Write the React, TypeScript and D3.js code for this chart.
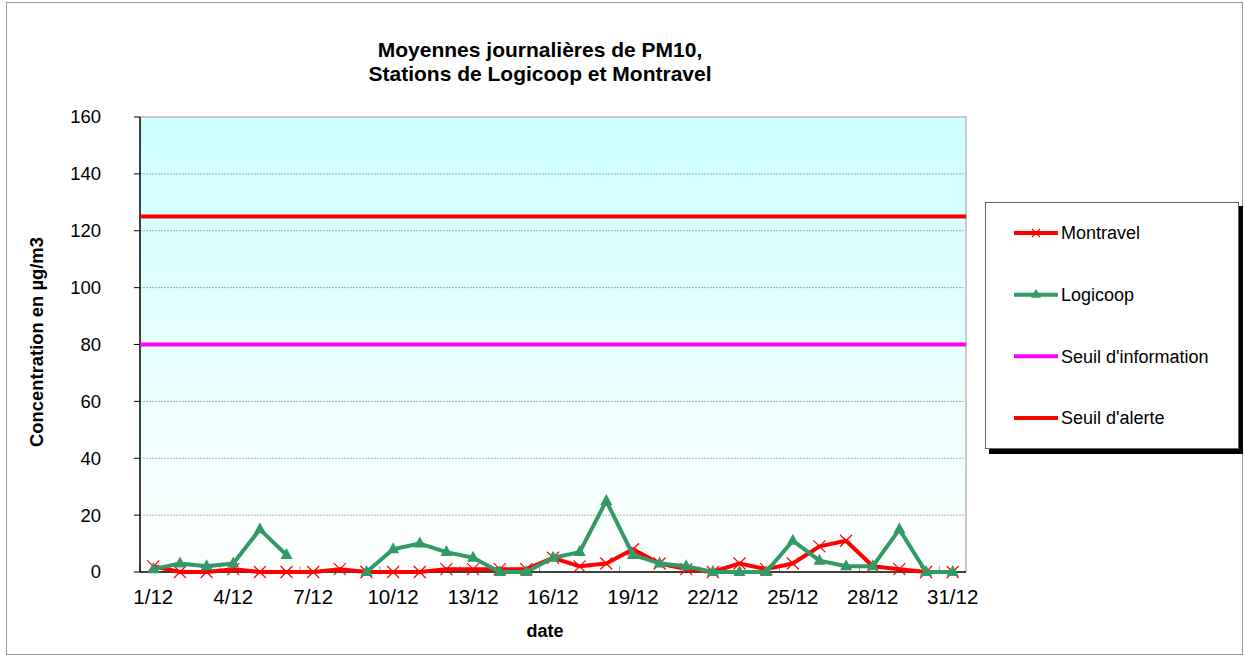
import React, { useEffect, useRef } from 'react';
import * as d3 from 'd3';

const days = d3.range(1, 32).map(d => `${d}/12`);
const montravel: (number | null)[] = [2, 0, 0, 1, 0, 0, 0, 1, 0, 0, 0, 1, 1, 1, 1, 5, 2, 3, 8, 3, 1, 0, 3, 1, 3, 9, 11, 2, 1, 0, 0];
const logicoop: (number | null)[] = [1, 3, 2, 3, 15, 6, null, null, 0, 8, 10, 7, 5, 0, 0, 5, 7, 25, 6, 3, 2, 0, 0, 0, 11, 4, 2, 2, 15, 0, 0];
const seuilInformation = 80;
const seuilAlerte = 125;
const yTicks = [0, 20, 40, 60, 80, 100, 120, 140, 160];
const legendItems = ['Montravel', 'Logicoop', "Seuil d'information", "Seuil d'alerte"];

const W = 1245;
const H = 657;
const FONT = 'Liberation Sans, Arial, sans-serif';

const App = () => {
  const svgRef = useRef<SVGSVGElement>(null);

  useEffect(() => {
    const svg = d3.select(svgRef.current);
    svg.selectAll('*').remove();

    const left = 140, right = 966, top = 117, bottom = 572;

    // dégradé du fond
    const defs = svg.append('defs');
    const grad = defs.append('linearGradient').attr('id', 'bg').attr('x1', 0).attr('y1', 0).attr('x2', 0).attr('y2', 1);
    grad.append('stop').attr('offset', '0%').attr('stop-color', '#CCFFFF');
    grad.append('stop').attr('offset', '100%').attr('stop-color', '#FFFFFF');

    svg.append('rect').attr('x', 0).attr('y', 0).attr('width', W).attr('height', H).attr('fill', '#fff');
    svg.append('rect').attr('x', 6.5).attr('y', 2.5).attr('width', 1236).attr('height', 652)
      .attr('fill', 'none').attr('stroke', '#999').attr('stroke-width', 1);

    const x = d3.scaleBand().domain(days).range([left, right]).padding(0);
    const y = d3.scaleLinear().domain([0, 160]).range([bottom, top]);
    const cx = (d: string) => (x(d) as number) + x.bandwidth() / 2;

    svg.append('rect').attr('x', left).attr('y', top).attr('width', right - left).attr('height', bottom - top)
      .attr('fill', 'url(#bg)');

    // grille
    svg.append('g').selectAll('line').data(yTicks.filter(t => t > 0 && t < 160)).enter().append('line')
      .attr('x1', left).attr('x2', right).attr('y1', d => y(d)).attr('y2', d => y(d))
      .attr('stroke', '#8a8a8a').attr('stroke-width', 0.7).attr('stroke-dasharray', '2,1');

    // bordure haute / droite
    svg.append('line').attr('x1', left).attr('x2', right + 1).attr('y1', top).attr('y2', top)
      .attr('stroke', '#c8c8c8').attr('stroke-width', 2);
    svg.append('line').attr('x1', right).attr('x2', right).attr('y1', top).attr('y2', bottom)
      .attr('stroke', '#c8c8c8').attr('stroke-width', 2);

    // ticks x
    const tickIdx = d3.range(0, 31, 3);
    svg.append('g').selectAll('line').data(tickIdx).enter().append('line')
      .attr('x1', d => left + d * x.bandwidth()).attr('x2', d => left + d * x.bandwidth())
      .attr('y1', bottom - 6).attr('y2', bottom)
      .attr('stroke', '#999').attr('stroke-width', 1);

    // axes
    svg.append('line').attr('x1', left).attr('x2', right).attr('y1', bottom).attr('y2', bottom)
      .attr('stroke', '#000').attr('stroke-width', 1.5);
    svg.append('line').attr('x1', left).attr('x2', left).attr('y1', top).attr('y2', bottom)
      .attr('stroke', '#000').attr('stroke-width', 1.5);

    svg.append('g').selectAll('line').data(yTicks).enter().append('line')
      .attr('x1', left - 6).attr('x2', left).attr('y1', d => y(d)).attr('y2', d => y(d))
      .attr('stroke', '#000').attr('stroke-width', 1);

    svg.append('g').selectAll('text').data(yTicks).enter().append('text')
      .attr('x', 101).attr('y', d => y(d)).attr('dy', '0.35em')
      .attr('text-anchor', 'end').attr('font-family', FONT).attr('font-size', 18.5)
      .text(d => d);

    svg.append('g').selectAll('text').data(days.filter((_, i) => i % 3 === 0)).enter().append('text')
      .attr('x', d => cx(d)).attr('y', 604)
      .attr('text-anchor', 'middle').attr('font-family', FONT).attr('font-size', 20.5)
      .text(d => d);

    // seuils
    svg.append('line').attr('x1', left).attr('x2', right).attr('y1', y(seuilAlerte)).attr('y2', y(seuilAlerte))
      .attr('stroke', '#FF0000').attr('stroke-width', 4);
    svg.append('line').attr('x1', left).attr('x2', right).attr('y1', y(seuilInformation)).attr('y2', y(seuilInformation))
      .attr('stroke', '#FF00FF').attr('stroke-width', 4);

    const line = d3.line<number | null>()
      .defined(d => d !== null)
      .x((_, i) => cx(days[i]))
      .y(d => y(d as number));

    // Montravel
    svg.append('path').datum(montravel).attr('d', line).attr('fill', 'none')
      .attr('stroke', '#FF0000').attr('stroke-width', 4).attr('stroke-linejoin', 'round');
    svg.append('g').selectAll('path').data(montravel).enter().append('path')
      .attr('transform', (d, i) => `translate(${cx(days[i])},${y(d as number)})`)
      .attr('d', 'M-6,-6L6,6M-6,6L6,-6')
      .attr('stroke', '#FF0000').attr('stroke-width', 1.2).attr('fill', 'none');

    // Logicoop
    svg.append('path').datum(logicoop).attr('d', line).attr('fill', 'none')
      .attr('stroke', '#339966').attr('stroke-width', 4).attr('stroke-linejoin', 'round');
    svg.append('g').selectAll('path').data(logicoop.map((v, i) => ({ v, i })).filter(p => p.v !== null)).enter().append('path')
      .attr('transform', p => `translate(${cx(days[p.i])},${y(p.v as number)})`)
      .attr('d', 'M0,-7L6,4L-6,4Z')
      .attr('fill', '#339966');

    // titres
    svg.append('text').attr('x', 540).attr('y', 57).attr('text-anchor', 'middle')
      .attr('font-family', FONT).attr('font-size', 21).attr('font-weight', 'bold')
      .text('Moyennes journalières de PM10,');
    svg.append('text').attr('x', 540).attr('y', 81).attr('text-anchor', 'middle')
      .attr('font-family', FONT).attr('font-size', 21).attr('font-weight', 'bold')
      .text('Stations de Logicoop et Montravel');
    svg.append('text').attr('x', 545).attr('y', 637).attr('text-anchor', 'middle')
      .attr('font-family', FONT).attr('font-size', 18).attr('font-weight', 'bold')
      .text('date');
    svg.append('text').attr('transform', `translate(43,342) rotate(-90)`)
      .attr('text-anchor', 'middle')
      .attr('font-family', FONT).attr('font-size', 18.4).attr('font-weight', 'bold')
      .text('Concentration en µg/m3');

    // légende
    const lg = svg.append('g');
    lg.append('rect').attr('x', 989).attr('y', 206).attr('width', 254).attr('height', 248).attr('fill', '#000');
    lg.append('rect').attr('x', 985.5).attr('y', 202.5).attr('width', 253).attr('height', 246)
      .attr('fill', '#fff').attr('stroke', '#666').attr('stroke-width', 1);
    const colors = ['#FF0000', '#339966', '#FF00FF', '#FF0000'];
    const ly = d3.scalePoint<string>().domain(legendItems).range([233, 418]);
    legendItems.forEach((name, i) => {
      const yy = ly(name) as number;
      lg.append('line').attr('x1', 1014).attr('x2', 1058).attr('y1', yy).attr('y2', yy)
        .attr('stroke', colors[i]).attr('stroke-width', 4);
      if (i === 0) {
        lg.append('path').attr('transform', `translate(1036,${yy})`).attr('d', 'M-4,-4L4,4M-4,4L4,-4')
          .attr('stroke', '#FF0000').attr('stroke-width', 1.2);
      }
      if (i === 1) {
        lg.append('path').attr('transform', `translate(1036,${yy})`).attr('d', 'M0,-6L5,3L-5,3Z')
          .attr('fill', '#339966');
      }
      lg.append('text').attr('x', 1061).attr('y', yy).attr('dy', '0.35em')
        .attr('font-family', FONT).attr('font-size', 18).text(name);
    });
  }, []);

  return (
    <div style={{ position: 'absolute', left: 0, top: 0 }}>
      <svg ref={svgRef} width={W} height={H} style={{ display: 'block' }} />
    </div>
  );
};

export default App;
